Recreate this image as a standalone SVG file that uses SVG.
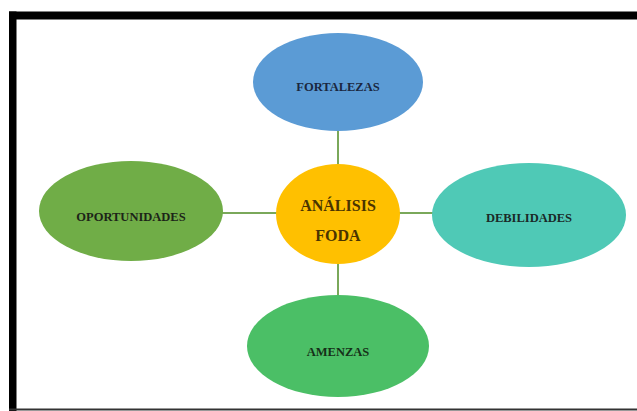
<svg xmlns="http://www.w3.org/2000/svg" width="637" height="411" viewBox="0 0 637 411">
<style>
.lbl{font-family:"Liberation Serif","Times New Roman",serif;font-size:12.5px;font-weight:bold;text-anchor:middle;fill:#1c2418;}
.ctr{font-family:"Liberation Serif","Times New Roman",serif;font-size:16px;font-weight:bold;text-anchor:middle;fill:#4a3400;}
.conn{stroke:#7aa85a;stroke-width:2;fill:none;}
</style>
<rect x="0" y="0" width="637" height="411" fill="#ffffff"/>
<g id="frame">
<rect x="9" y="11.5" width="628" height="8" fill="#000"/>
<rect x="9" y="11.5" width="7.5" height="399.5" fill="#000"/>
<rect x="9" y="408.5" width="628" height="2" fill="#333"/>
</g>
<g id="connectors">
<line class="conn" x1="338" y1="130" x2="338" y2="166"/>
<line class="conn" x1="222" y1="213" x2="278" y2="213"/>
<line class="conn" x1="398" y1="213" x2="434" y2="213"/>
<line class="conn" x1="338" y1="262" x2="338" y2="297"/>
</g>
<g id="fortalezas">
<ellipse cx="338" cy="82" rx="85" ry="49" fill="#5B9BD5"/>
<text class="lbl" x="338" y="91" style="fill:#1a2740">FORTALEZAS</text>
</g>
<g id="oportunidades">
<ellipse cx="131" cy="211" rx="92" ry="50" fill="#70AD47"/>
<text class="lbl" x="131" y="221">OPORTUNIDADES</text>
</g>
<g id="debilidades">
<ellipse cx="529" cy="215" rx="97" ry="52" fill="#4FC9B6"/>
<text class="lbl" x="529" y="222" style="fill:#1a2a28">DEBILIDADES</text>
</g>
<g id="amenzas">
<ellipse cx="338" cy="346" rx="91" ry="51" fill="#4BBF66"/>
<text class="lbl" x="338" y="356" style="fill:#163018">AMENZAS</text>
</g>
<g id="analisis">
<ellipse cx="338" cy="214" rx="62" ry="50" fill="#FFC000"/>
<text class="ctr" x="338" y="211">ANÁLISIS</text>
<text class="ctr" x="338" y="241">FODA</text>
</g>
</svg>
